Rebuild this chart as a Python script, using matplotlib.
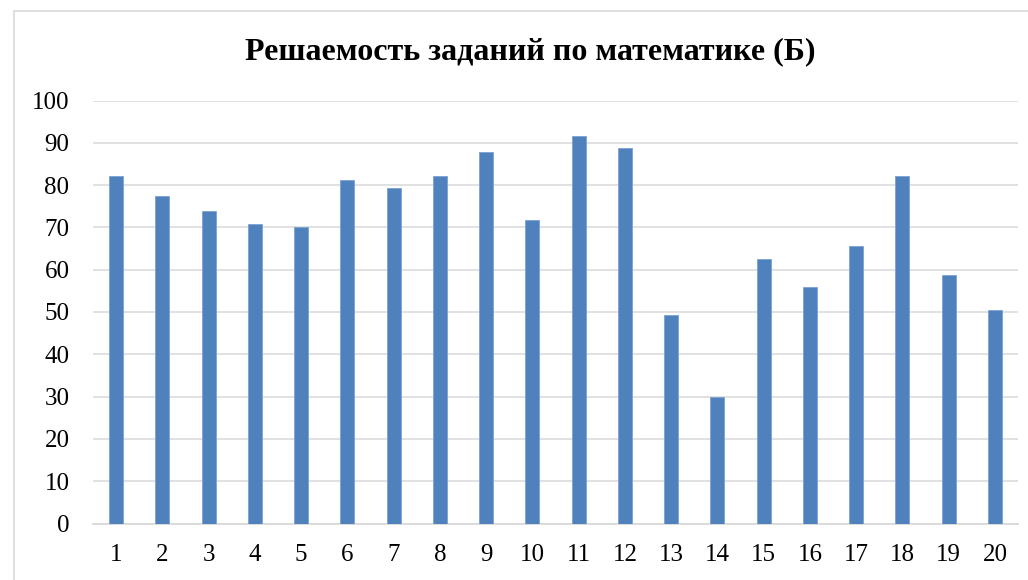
import matplotlib
matplotlib.use("Agg")
import matplotlib.pyplot as plt
from matplotlib.patches import Rectangle

# Task numbers and solve rates (%)
tasks = [str(i) for i in range(1, 21)]
solve_rate = [82.1, 77.4, 73.8, 70.9, 70.1, 81.2, 79.3, 82.1, 87.8, 71.8,
              91.7, 88.7, 49.4, 29.9, 62.6, 55.9, 65.5, 82.1, 58.8, 50.4]
y_ticks = [0, 10, 20, 30, 40, 50, 60, 70, 80, 90, 100]
title = "Решаемость заданий по математике (Б)"

plt.rcParams["font.family"] = ["Liberation Serif", "DejaVu Serif"]

W, H = 1028, 580
fig = plt.figure(figsize=(W / 100, H / 100), dpi=100)
fig.patch.set_facecolor("white")

# Chart frame
fig.patches.append(Rectangle((13.5 / W, -0.1), 1.2, (H - 10.5) / H + 0.1,
                             transform=fig.transFigure, fill=False,
                             edgecolor="#d9d9d9", linewidth=1.2))

ax = fig.add_axes([93 / W, (H - 523.5) / H, (1018 - 93) / W, (523.5 - 100.5) / H])
x = range(len(tasks))
ax.bar(x, solve_rate, width=0.3, color="#4f81bd", edgecolor="#7da2d3",
       linewidth=0.6, zorder=3)

ax.set_xlim(-0.5, len(tasks) - 0.5)
ax.set_ylim(0, 100)
ax.set_yticks(y_ticks)
ax.set_xticks(list(x))
ax.set_xticklabels(tasks)
ax.tick_params(axis="both", length=0, labelsize=18, colors="black")
ax.tick_params(axis="y", pad=17)
ax.tick_params(axis="x", pad=15)

ax.grid(axis="y", color="#d9d9d9", linewidth=1.1, zorder=0)
for side in ("top", "right", "left"):
    ax.spines[side].set_visible(False)
ax.spines["bottom"].set_color("#d9d9d9")
ax.spines["bottom"].set_linewidth(1.3)
ax.set_facecolor("none")

fig.text(530 / W, (H - 52) / H, title, ha="center", va="center",
         fontsize=23, fontweight="bold")

fig.savefig("out.png", dpi=100)
